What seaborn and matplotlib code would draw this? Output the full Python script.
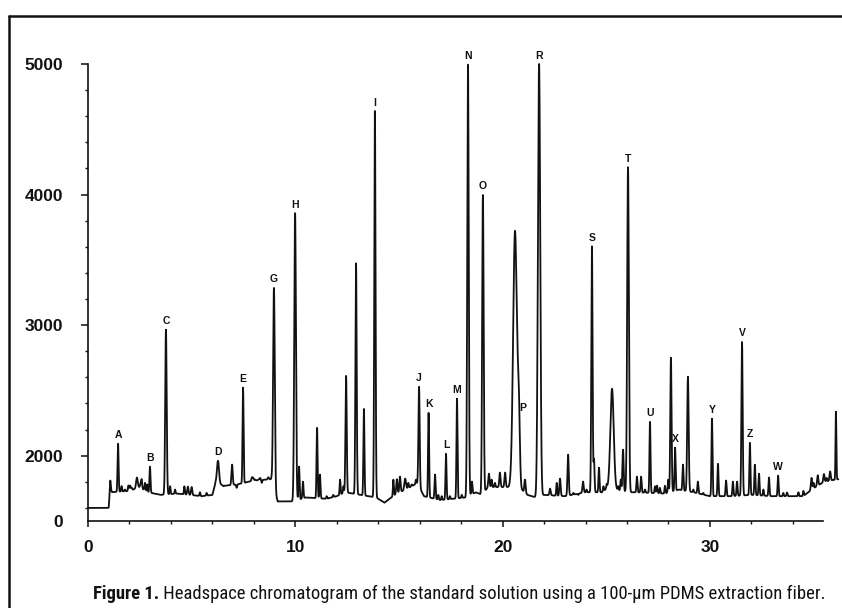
import numpy as np
import matplotlib
matplotlib.use("Agg")
import matplotlib.pyplot as plt
from matplotlib import font_manager as fm
from matplotlib.lines import Line2D
from matplotlib.ticker import FixedLocator
import seaborn as sns

# ---- peak table (retention time in min, apex height, sigma in min) ----
peak_time = [1.07, 1.45, 2.03, 2.36, 2.55, 2.99, 3.76, 4.82, 5.00, 6.27, 6.95, 7.48, 7.96, 8.30, 8.70,
             8.97, 9.99, 10.18, 10.37, 11.05, 11.19, 12.45, 12.93, 13.31, 13.84, 14.90, 15.05, 15.30,
             15.97, 16.43, 16.74, 17.27, 17.80, 18.33, 18.52, 19.05, 19.34, 19.87, 20.12, 20.60, 20.78,
             21.08, 21.47, 21.76, 22.29, 22.77, 23.16, 23.88, 24.31, 24.41, 24.65, 25.28, 25.81, 26.05,
             26.48, 26.68, 27.11, 27.45, 28.12, 28.32, 28.70, 28.94, 29.42, 30.10, 30.39, 30.78, 31.11,
             31.31, 31.55, 31.93, 32.17, 32.37, 32.85, 33.29, 33.72, 34.90, 35.20, 35.50, 35.80, 36.08]
peak_height = [1800, 2093, 1771, 1833, 1790, 1917, 2965, 1763, 1760, 1962, 1932, 2521, 1833, 1830, 1835,
               3286, 3860, 1917, 1802, 2215, 1856, 2613, 3477, 2360, 4640, 1820, 1840, 1825,
               2529, 2330, 1856, 2016, 2437, 5000, 1802, 4000, 1863, 1871, 1871, 3722, 2300,
               1817, 1687, 5000, 1748, 1825, 2008, 1802, 3607, 1970, 1909, 2513, 2047, 4212,
               1840, 1840, 2261, 1771, 2750, 2062, 1932, 2605, 1802, 2284, 1939, 1810, 1802,
               1802, 2873, 2100, 1932, 1863, 1833, 1848, 1718, 1830, 1850, 1860, 1880, 2337]
peak_width = [0.03, 0.025, 0.03, 0.04, 0.03, 0.025, 0.035, 0.03, 0.03, 0.05, 0.03, 0.025, 0.03, 0.03, 0.03,
              0.04, 0.04, 0.025, 0.025, 0.025, 0.025, 0.03, 0.03, 0.025, 0.03, 0.03, 0.03, 0.04,
              0.03, 0.025, 0.025, 0.025, 0.025, 0.035, 0.025, 0.035, 0.03, 0.03, 0.03, 0.09, 0.05,
              0.03, 0.03, 0.055, 0.03, 0.03, 0.03, 0.03, 0.03, 0.025, 0.025, 0.08, 0.03, 0.04,
              0.025, 0.025, 0.025, 0.025, 0.03, 0.025, 0.025, 0.035, 0.025, 0.025, 0.025, 0.025, 0.025,
              0.025, 0.03, 0.025, 0.025, 0.025, 0.025, 0.025, 0.025, 0.03, 0.03, 0.03, 0.03, 0.02]
peak_label = ["", "A", "", "", "", "B", "C", "", "", "D", "", "E", "", "", "",
              "G", "H", "", "", "", "", "", "", "", "I", "", "", "",
              "J", "K", "", "L", "M", "N", "", "O", "", "", "", "", "P",
              "", "", "R", "", "", "", "", "S", "", "", "", "", "T",
              "", "", "U", "", "", "X", "", "", "", "Y", "", "", "",
              "", "V", "Z", "", "", "", "W", "", "", "", "", "", ""]

# small unlabelled bumps riding on the baseline (time, apex height)
bump_time = [1.62, 1.78, 1.95, 2.11, 2.59, 2.75, 2.86, 3.96, 4.20, 4.65, 5.40, 5.72, 6.53, 7.17, 7.90,
             8.06, 8.22, 8.38, 8.54, 8.86, 11.51, 11.83, 12.16, 12.32, 14.73, 15.45, 15.61, 15.82,
             16.18, 16.90, 17.06, 17.46, 18.03, 18.67, 19.47, 19.63, 22.61, 23.41, 23.65, 24.05,
             24.86, 25.02, 25.58, 25.70, 26.87, 27.35, 27.59, 27.83, 27.99, 28.56, 29.20, 29.68,
             32.58, 33.54, 34.27, 34.51, 35.00, 35.63, 35.95]
bump_height = [1767, 1741, 1771, 1754, 1804, 1792, 1780, 1766, 1741, 1766, 1720, 1715, 1766, 1754, 1831,
               1817, 1817, 1792, 1817, 1820, 1690, 1700, 1817, 1766, 1817, 1792, 1780, 1817,
               1700, 1700, 1690, 1690, 1700, 1715, 1817, 1792, 1792, 1715, 1700, 1741,
               1766, 1780, 1766, 1817, 1741, 1766, 1754, 1770, 1817, 1741, 1741, 1715,
               1741, 1715, 1720, 1730, 1792, 1830, 1817]

# baseline under the peaks
base_time = [0, 1.0, 1.08, 2.0, 2.5, 2.9, 3.5, 4.3, 5.5, 6.0, 6.15, 6.6, 7.2, 8.0, 8.85, 9.15, 9.9,
             10.5, 11.5, 12.0, 12.4, 13.9, 14.3, 14.8, 15.3, 15.9, 16.2, 17.0, 18.2, 18.7, 19.0, 19.3,
             20.3, 20.5, 21.2, 21.6, 22.0, 23.0, 24.0, 24.8, 25.1, 25.5, 26.0, 26.5, 27.8, 28.5, 29.2,
             30.0, 31.0, 32.0, 33.0, 34.5, 35.0, 35.5, 36.2]
base_level = [1600, 1600, 1720, 1730, 1760, 1720, 1700, 1710, 1690, 1700, 1790, 1770, 1780, 1810, 1820,
              1650, 1650, 1680, 1670, 1690, 1720, 1680, 1640, 1700, 1740, 1790, 1690, 1660, 1680, 1720,
              1700, 1760, 1760, 1800, 1700, 1680, 1700, 1690, 1720, 1720, 1760, 1740, 1720, 1720, 1710,
              1740, 1720, 1690, 1690, 1700, 1690, 1690, 1750, 1800, 1820]

x_major = [0, 10, 20, 30]
x_minor = [2, 4, 6, 8, 12, 14, 16, 18, 22, 24, 26, 28, 32, 34]
y_major = [1500, 2000, 3000, 4000, 5000]
y_major_labels = ["0", "2000", "3000", "4000", "5000"]
y_minor = [1600, 1800, 2200, 2400, 2600, 2800, 3200, 3400, 3600, 3800, 4200, 4400, 4600, 4800]
caption_bold = "Figure 1."
caption_rest = " Headspace chromatogram of the standard solution using a 100-\u00b5m PDMS extraction fiber."

# ---- trace ----
t = np.arange(0, 36.2, 0.004)
base = np.interp(t, base_time, base_level)
signal = base.copy()
all_time = peak_time + bump_time
all_height = peak_height + bump_height
all_width = peak_width + [0.022] * len(bump_time)
for rt, h, w in zip(all_time, all_height, all_width):
    amp = h - np.interp(rt, base_time, base_level)
    signal += amp * np.exp(-0.5 * ((t - rt) / w) ** 2)
signal = np.minimum(signal, 5000)

sns.set_theme(style="ticks")


def pick_font(names):
    for n in names:
        try:
            fm.findfont(fm.FontProperties(family=n), fallback_to_default=False)
            return n
        except Exception:
            continue
    return "DejaVu Sans"


sans = pick_font(["Liberation Sans", "Arial", "DejaVu Sans"])
narrow = pick_font(["Liberation Sans Narrow", "Roboto Condensed", "Open Sans Condensed", "Liberation Sans"])
plt.rcParams["font.family"] = [sans, "DejaVu Sans"]

fig = plt.figure(figsize=(8.42, 6.08), dpi=100)
ax = fig.add_axes([88 / 842, 1 - 521 / 608, 36.3 * 20.73 / 842, (521 - 64) / 608])

sns.lineplot(x=t, y=signal, ax=ax, color="#111111", linewidth=1.3, estimator=None, sort=False)
for line in ax.get_lines():
    line.set_clip_on(False)

for rt, h, lab in zip(peak_time, peak_height, peak_label):
    if lab:
        dx = 3 if lab == "P" else 0
        ax.annotate(lab, xy=(rt, h), xytext=(dx, 6), textcoords="offset points",
                    ha="center", va="center", fontsize=7.5, fontweight="bold", color="#111111",
                    annotation_clip=False)

ax.set_xlim(0, 36.3)
ax.set_ylim(1500, 5000)
ax.set_facecolor("white")
sns.despine(ax=ax)
ax.spines["bottom"].set_bounds(0, 35.45)
ax.spines["left"].set_bounds(1500, 5000)
for s in ("left", "bottom"):
    ax.spines[s].set_linewidth(1.2)
    ax.spines[s].set_color("#111111")

ax.set_xticks(x_major)
ax.set_xticklabels([str(v) for v in x_major])
ax.xaxis.set_minor_locator(FixedLocator(x_minor))
ax.set_yticks(y_major)
ax.set_yticklabels(y_major_labels)
ax.yaxis.set_minor_locator(FixedLocator(y_minor))
ax.yaxis.get_major_ticks()[0].tick1line.set_visible(False)

ax.tick_params(axis="x", which="major", length=4, width=1.1, pad=10, labelsize=12.5, colors="#111111")
ax.tick_params(axis="y", which="major", length=5, width=1.1, pad=13, labelsize=12.5, colors="#111111")
ax.tick_params(which="minor", length=2.5, width=1.0, colors="#111111")
for lbl in ax.get_xticklabels() + ax.get_yticklabels():
    lbl.set_fontweight("bold")
ax.set_xlabel("")
ax.set_ylabel("")

# outer frame of the figure panel
fig.add_artist(Line2D([9 / 842, 1.0], [1 - 16 / 608, 1 - 16 / 608], transform=fig.transFigure,
                      color="#111111", linewidth=1.8))
fig.add_artist(Line2D([9 / 842, 9 / 842], [0.0, 1 - 16 / 608], transform=fig.transFigure,
                      color="#111111", linewidth=1.8))

# caption, fitted to the width it spans in the figure
cap_size = 14
tb = fig.text(93 / 842, 1 - 599 / 608, caption_bold, fontsize=cap_size, fontweight="bold",
              family=[narrow, "DejaVu Sans"], ha="left", va="baseline", color="#111111")
fig.canvas.draw()
r = fig.canvas.get_renderer()
bw = tb.get_window_extent(r).width
tr = fig.text(93 / 842 + bw / 842, 1 - 599 / 608, caption_rest, fontsize=cap_size,
              family=[narrow, "DejaVu Sans"], ha="left", va="baseline", color="#111111")
fig.canvas.draw()
total = bw + tr.get_window_extent(r).width
scale = 739 / total
cap_size *= scale
tb.set_fontsize(cap_size)
fig.canvas.draw()
bw = tb.get_window_extent(r).width
tr.set_fontsize(cap_size)
tr.set_x(93 / 842 + bw / 842)

fig.savefig("out.png", dpi=100, facecolor="white")
